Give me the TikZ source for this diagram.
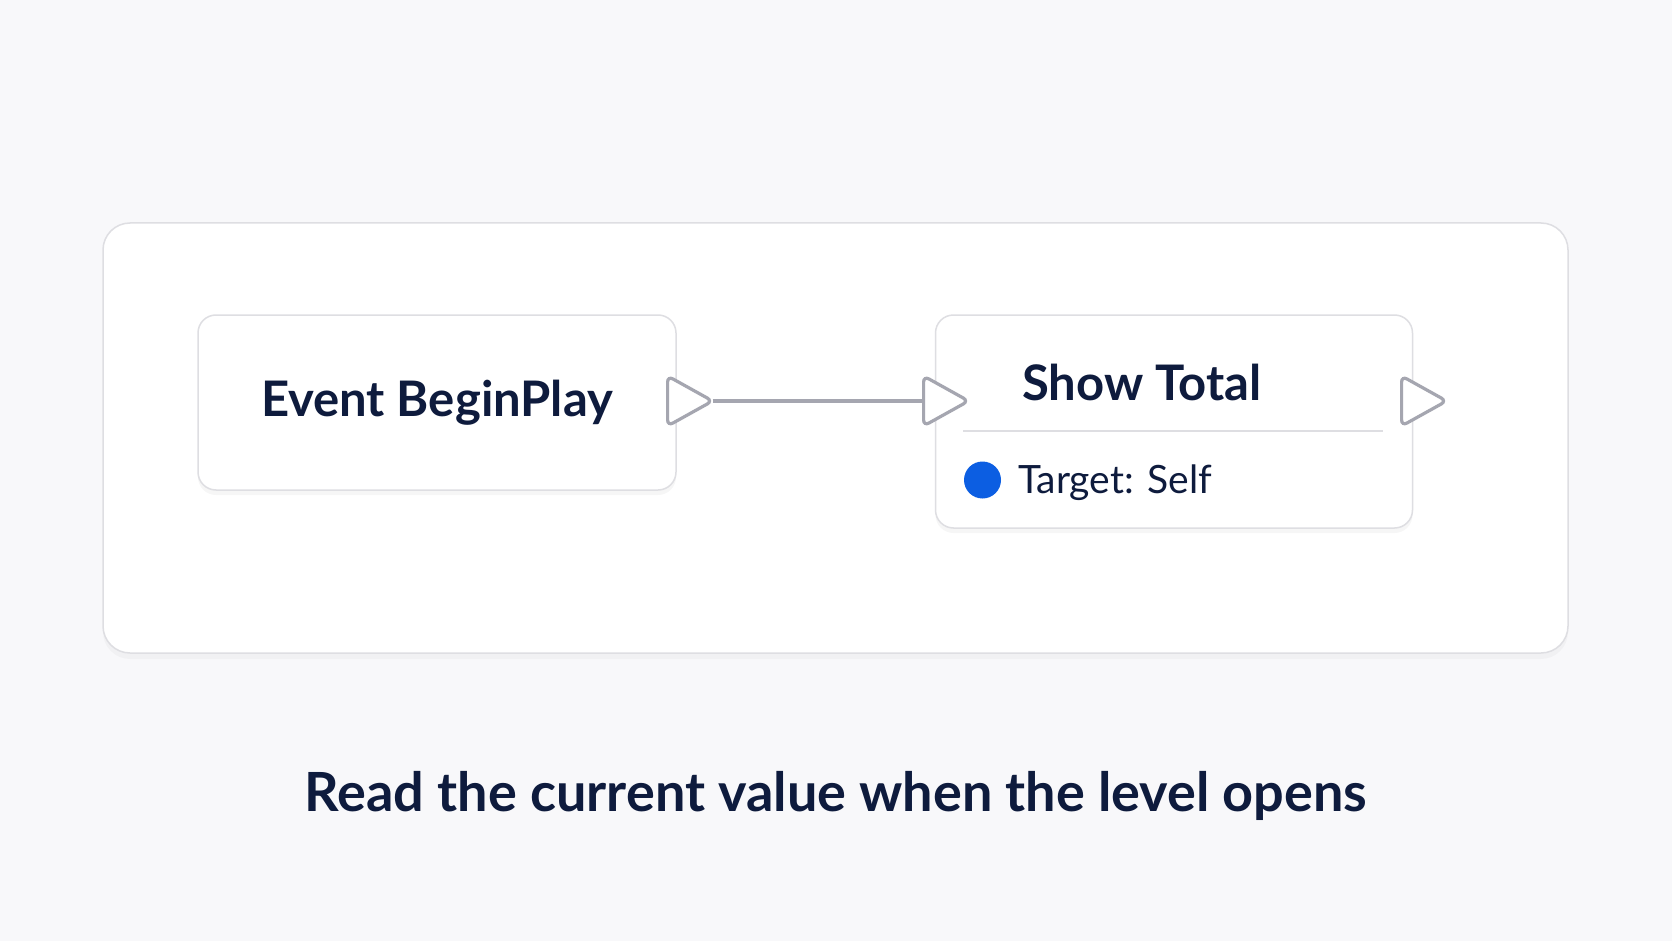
\documentclass[tikz,border=0pt]{standalone}
\usepackage{fontspec}
\setmainfont{Lato}
\usetikzlibrary{positioning}
\usetikzlibrary{shapes.geometric}
\usetikzlibrary{shadows}

\definecolor{ink}{RGB}{14,27,61}
\definecolor{paper}{RGB}{248,248,250}
\definecolor{rim}{RGB}{222,222,226}
\definecolor{wire}{RGB}{165,166,176}
\definecolor{pinblue}{RGB}{12,94,226}

\begin{document}
\begin{tikzpicture}[x=1pt, y=-1pt, node distance=258pt]
	\tikzstyle{board} = [draw=rim, line width=1.5pt, fill=white, rounded corners=27pt, drop shadow={opacity=0.05, shadow xshift=0pt, shadow yshift=-6pt}];
	\tikzstyle{bpnode} = [draw=rim, line width=1.5pt, fill=white, rounded corners=18pt, inner sep=0pt, drop shadow={opacity=0.07, shadow xshift=0pt, shadow yshift=-5pt}];
	\tikzstyle{execpin} = [isosceles triangle, isosceles triangle stretches, minimum width=50pt, minimum height=45pt, inner sep=0pt, draw=wire, line width=3.2pt, fill=white, rounded corners=6pt, anchor=west];
	\tikzstyle{title} = [text=ink, font=\fontsize{49}{58}\selectfont\bfseries];
	\tikzstyle{pinlabel} = [text=ink, font=\fontsize{39}{46}\selectfont];

	% background and panel
	\fill [paper] (0,0) rectangle (1672,941);
	\useasboundingbox (0,0) rectangle (1672,941);
	\node [board, minimum width=1465pt, minimum height=430pt] (panel) at (835.5,438) {};

	% blueprint nodes
	\node [bpnode, title, minimum width=478pt, minimum height=175pt] (begin) at (437,402.5) {Event BeginPlay};
	\node [bpnode, minimum width=477pt, minimum height=213pt] (show) [right=of begin.north east, anchor=north west] {};
	\node [title, anchor=base] (show-title) at (1142,400) {Show Total};
	\draw [rim, line width=1.5pt] (963,431) -- (1383,431);
	\fill [pinblue] (982.5,480) circle (18.5pt);
	\node [pinlabel, anchor=base west, inner sep=0pt] (target) at (1018,493) {Target: Self};

	% exec pins
	\node [execpin] (begin-out) at (666,401) {};
	\node [execpin] (show-in) at (922,401) {};
	\node [execpin] (show-out) at (1400,401) {};

	\draw [wire, line width=4pt, shorten <=-4pt] (begin-out.apex) -- (show-in.west);

	% caption
	\node [text=ink, font=\fontsize{54}{63}\selectfont\bfseries, anchor=base] (caption) at (836,811) {Read the current value when the level opens};
\end{tikzpicture}
\end{document}
